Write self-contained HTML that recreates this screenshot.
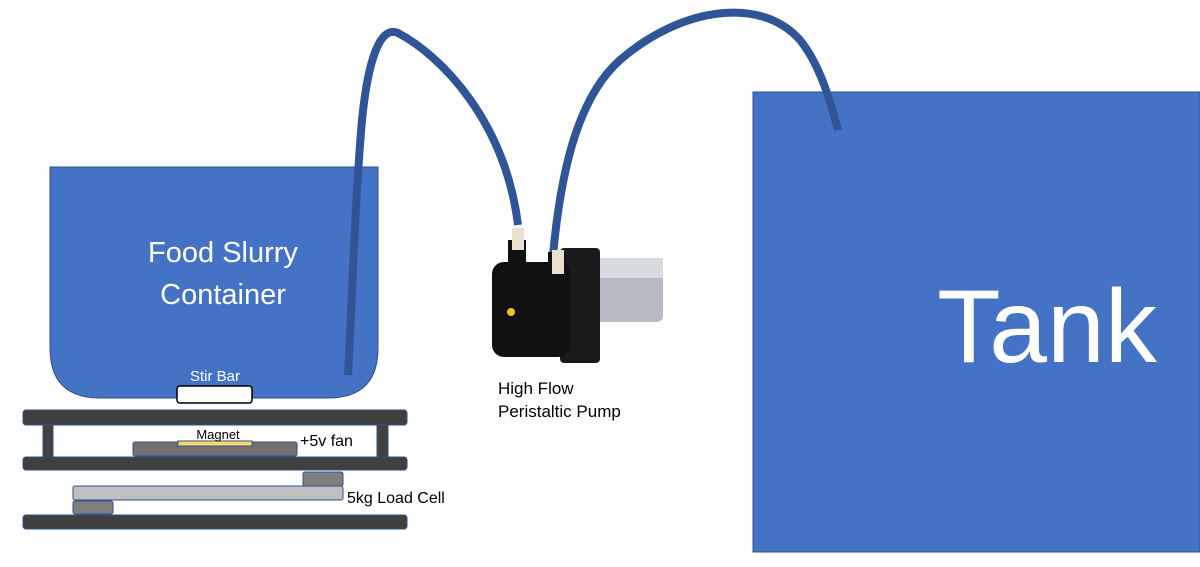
<!DOCTYPE html>
<html><head><style>body{margin:0;background:#fff}svg{display:block}</style></head><body>
<svg width="1200" height="567" xmlns="http://www.w3.org/2000/svg" font-family="Liberation Sans, sans-serif">
<rect x="753" y="92" width="447" height="460" fill="#4472C4" stroke="#2F528F"/>
<text x="1047" y="362" font-size="104" fill="#fff" text-anchor="middle">Tank</text>
<path d="M50,167 H378 V348 Q378,398 328,398 H100 Q50,398 50,348 Z" fill="#4472C4" stroke="#2F528F"/>
<text x="223" y="262" font-size="29" fill="#fff" text-anchor="middle">Food Slurry</text>
<text x="223" y="304" font-size="29" fill="#fff" text-anchor="middle">Container</text>
<text x="215" y="381" font-size="15" fill="#fff" text-anchor="middle">Stir Bar</text>
<rect x="177" y="386" width="75" height="17" rx="3" fill="#fff" stroke="#000" stroke-width="1.5"/>
<g fill="none" stroke="#2F5597" stroke-width="8" stroke-linecap="butt">
<path d="M348,375 C352,300 355,200 362,120 C368,60 380,25 398,33 C440,55 505,120 518,225"/>
<path d="M553,255 C560,180 575,100 620,60 C680,8 760,-5 800,40 C820,65 830,100 838,130"/>
</g>
<rect x="588" y="258" width="75" height="64" rx="6" fill="#b8bcc2"/>
<rect x="588" y="258" width="75" height="20" fill="#d8dbe0"/>
<rect x="560" y="248" width="40" height="115" rx="4" fill="#1a1a1a"/>
<rect x="492" y="262" width="78" height="95" rx="12" fill="#111"/>
<rect x="508" y="240" width="18" height="35" fill="#111"/>
<rect x="512" y="228" width="12" height="22" fill="#e8e0cc"/>
<rect x="548" y="252" width="18" height="40" fill="#111"/>
<rect x="552" y="250" width="12" height="24" fill="#e8e0cc"/>
<circle cx="511" cy="312" r="4" fill="#e8c820"/>
<text x="498" y="394" font-size="17" fill="#000">High Flow</text>
<text x="498" y="417" font-size="17" fill="#000">Peristaltic Pump</text>
<g fill="#404040" stroke="#2F528F" stroke-width="1">
<rect x="23" y="410" width="384" height="15" rx="3"/>
<rect x="43" y="425" width="10" height="32"/>
<rect x="377" y="425" width="11" height="32"/>
<rect x="23" y="457" width="384" height="13" rx="3"/>
<rect x="23" y="515" width="384" height="14" rx="3"/>
</g>
<rect x="133" y="442" width="164" height="14" rx="2" fill="#767171" stroke="#2F528F"/>
<rect x="178" y="441" width="74" height="5" fill="#FFD966" stroke="#2F528F"/>
<text x="218" y="439" font-size="13" fill="#000" text-anchor="middle">Magnet</text>
<text x="300" y="446" font-size="16" fill="#000">+5v fan</text>
<rect x="303" y="472" width="40" height="14" rx="2" fill="#7f7f7f" stroke="#2F528F"/>
<rect x="73" y="486" width="270" height="14" rx="2" fill="#bfbfbf" stroke="#2F528F"/>
<rect x="73" y="501" width="40" height="13" rx="2" fill="#7f7f7f" stroke="#2F528F"/>
<text x="347" y="503" font-size="16" fill="#000">5kg Load Cell</text>
</svg>
</body></html>
